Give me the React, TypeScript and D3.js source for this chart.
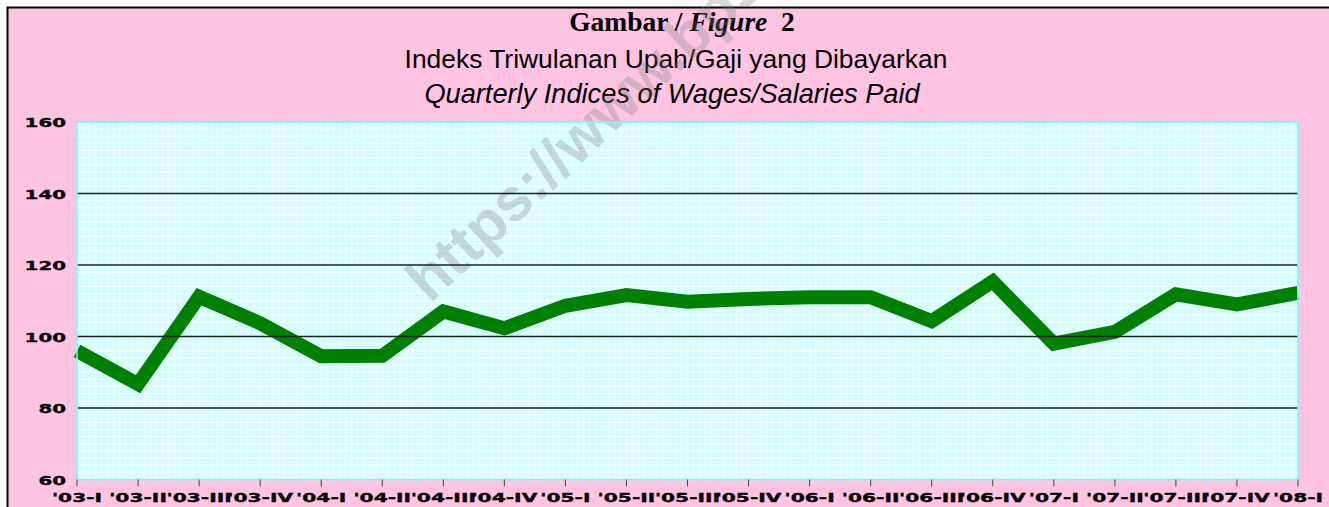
import React from 'react';
import * as d3 from 'd3';

const categories = ["'03-I", "'03-II", "'03-III", "'03-IV", "'04-I", "'04-II", "'04-III", "'04-IV", "'05-I", "'05-II", "'05-III", "'05-IV", "'06-I", "'06-II", "'06-III", "'06-IV", "'07-I", "'07-II", "'07-III", "'07-IV", "'08-I"];
const wageIndex = [96.0, 86.7, 111.1, 103.7, 94.5, 94.6, 107.0, 102.3, 108.6, 111.6, 109.7, 110.5, 111.0, 111.0, 104.3, 115.4, 98.0, 101.3, 111.8, 109.0, 112.2];
const yTicks = [60, 80, 100, 120, 140, 160];
const majorGrid = [80, 100, 120, 140];

const W = 1329;
const H = 507;
const left = 77;
const right = 1298;
const top = 122;
const bottom = 479.5;

export default function App() {
  const x = d3.scalePoint<string>().domain(categories).range([left, right]);
  const y = d3.scaleLinear().domain([60, 160]).range([bottom, top]);
  const line = d3
    .line<number>()
    .x((_, i) => x(categories[i]) as number)
    .y((d) => y(d));

  const step = x.step();
  const minorV = d3.range(left, right, step / 10);
  const minorH = d3.range(60, 160, 2);

  const font = "'DejaVu Sans', Verdana, sans-serif";

  return (
    <svg
      width={W}
      height={H}
      style={{ position: 'absolute', left: 0, top: 0, background: '#fff' }}
    >
      <rect x={7.5} y={7.5} width={W + 20} height={H + 20} fill="#FEC4E1" stroke="#000" strokeWidth={2} />

      {/* Titles */}
      <text x={682} y={31} textAnchor="middle" fontFamily="'Liberation Serif', 'Times New Roman', serif" fontWeight="bold" fontSize={27.5}>
        Gambar / <tspan fontStyle="italic">Figure</tspan>{'\u00a0\u00a0'}2
      </text>
      <text x={676} y={68} textAnchor="middle" fontFamily="'Liberation Sans', Arial, sans-serif" fontSize={26.4}>
        Indeks Triwulanan Upah/Gaji yang Dibayarkan
      </text>
      <text x={672} y={103} textAnchor="middle" fontFamily="'Liberation Sans', Arial, sans-serif" fontStyle="italic" fontSize={27.2}>
        Quarterly Indices of Wages/Salaries Paid
      </text>

      {/* Plot area */}
      <rect x={left} y={top} width={right - left} height={bottom - top} fill="#D6FDFD" />
      {minorV.map((v, i) => (
        <line key={'mv' + i} x1={v} x2={v} y1={top} y2={bottom} stroke="#fff" strokeOpacity={0.5} strokeWidth={1} />
      ))}
      {minorH.map((v, i) => (
        <line key={'mh' + i} x1={left} x2={right} y1={y(v)} y2={y(v)} stroke="#fff" strokeOpacity={0.9} strokeWidth={1} />
      ))}

      {/* Watermark */}
      <text
        transform="translate(430,304) rotate(-43)"
        fontFamily="'Liberation Sans', Arial, sans-serif"
        fontWeight="bold"
        fontSize={60}
        fill="#808080"
        fillOpacity={0.3}
      >
        https://www.bps.go.id
      </text>

      {/* Series */}
      <path d={line(wageIndex) || ''} fill="none" stroke="#008000" strokeWidth={14} strokeLinejoin="miter" />

      {/* Major grid (drawn over the series) */}
      {majorGrid.map((v) => (
        <line key={'g' + v} x1={left} x2={right} y1={y(v)} y2={y(v)} stroke="#222" strokeWidth={1.6} />
      ))}

      {/* Plot border */}
      <rect x={left} y={top} width={right - left} height={bottom - top} fill="none" stroke="#7FF5F5" strokeWidth={1.6} />

      {/* X ticks and labels */}
      {categories.map((c) => (
        <g key={c}>
          <line x1={x(c)} x2={x(c)} y1={bottom} y2={bottom + 7} stroke="#444" strokeWidth={1} />
          <g transform={`translate(${x(c)},502) scale(1.58,1)`}>
            <text textAnchor="middle" fontFamily={font} fontWeight="bold" fontSize={12.8} fill="#000" stroke="#000" strokeWidth={0.35}>
              {c}
            </text>
          </g>
        </g>
      ))}

      {/* Y labels */}
      {yTicks.map((t) => (
        <g key={'y' + t} transform={`translate(66,${y(t) + 5}) scale(1.55,1)`}>
          <text textAnchor="end" fontFamily={font} fontWeight="bold" fontSize={12.8} fill="#000" stroke="#000" strokeWidth={0.35}>
            {t}
          </text>
        </g>
      ))}
    </svg>
  );
}
